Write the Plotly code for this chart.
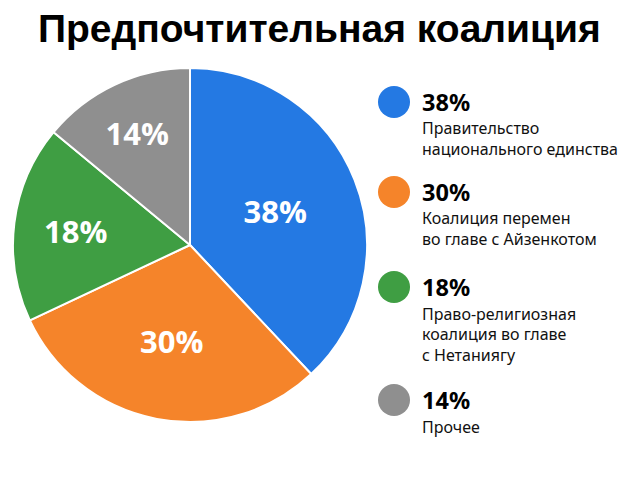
import plotly.graph_objects as go

title = "Предпочтительная коалиция"
labels = ["Правительство<br>национального единства",
          "Коалиция перемен<br>во главе с Айзенкотом",
          "Право-религиозная<br>коалиция во главе<br>с Нетаниягу",
          "Прочее"]
values = [38, 30, 18, 14]
colors = ["#2479E3", "#F5842A", "#3F9E43", "#8F8F8F"]

W, H = 640, 480
OFF = 8  # page margin offset of the browser


def px(x):
    return (x - OFF) / W


def py(y):
    return 1 - (y - OFF) / H


fig = go.Figure()
fig.add_trace(go.Pie(
    values=values,
    labels=[l.replace("<br>", " ") for l in labels],
    marker=dict(colors=colors, line=dict(color="white", width=2)),
    sort=False,
    direction="clockwise",
    rotation=0,
    textinfo="text",
    text=[f"{v}%" for v in values],
    textposition="inside",
    insidetextorientation="horizontal",
    textfont=dict(family="Open Sans", size=31, color="white", weight="bold"),
    domain=dict(x=[px(13), px(367)], y=[py(423), py(67)]),
    showlegend=False,
    hoverinfo="skip",
))

# legend built from data
legend_y = [102, 192, 287, 400]
shapes = []
annotations = []
for v, lab, c, yy in zip(values, labels, colors, legend_y):
    r = 16
    cx = 394
    shapes.append(dict(type="circle", xref="paper", yref="paper",
                       x0=px(cx - r), x1=px(cx + r),
                       y0=py(yy + r), y1=py(yy - r),
                       fillcolor=c, line=dict(width=0)))
    annotations.append(dict(xref="paper", yref="paper", x=px(422), y=py(yy),
                            xanchor="left", yanchor="middle", showarrow=False,
                            borderpad=0, borderwidth=0,
                            text=f"<b>{v}%</b>",
                            font=dict(family="Noto Sans", size=23.5, color="black")))
    for i, line in enumerate(lab.split("<br>")):
        annotations.append(dict(xref="paper", yref="paper", x=px(422), y=py(yy + 26.5 + 20.8 * i),
                                xanchor="left", yanchor="middle", showarrow=False,
                                borderpad=0, borderwidth=0,
                                text=line,
                                font=dict(family="Noto Sans", size=16, color="#111111")))

annotations.append(dict(xref="paper", yref="paper", x=px(319), y=py(29),
                        xanchor="center", yanchor="middle", showarrow=False,
                        text=f"<b>{title}</b>",
                        font=dict(family="Liberation Sans", size=39, color="black")))

fig.update_layout(width=W, height=H, margin=dict(l=0, r=0, t=0, b=0),
                  paper_bgcolor="white", plot_bgcolor="white",
                  shapes=shapes, annotations=annotations)
fig.write_html("out.html")
